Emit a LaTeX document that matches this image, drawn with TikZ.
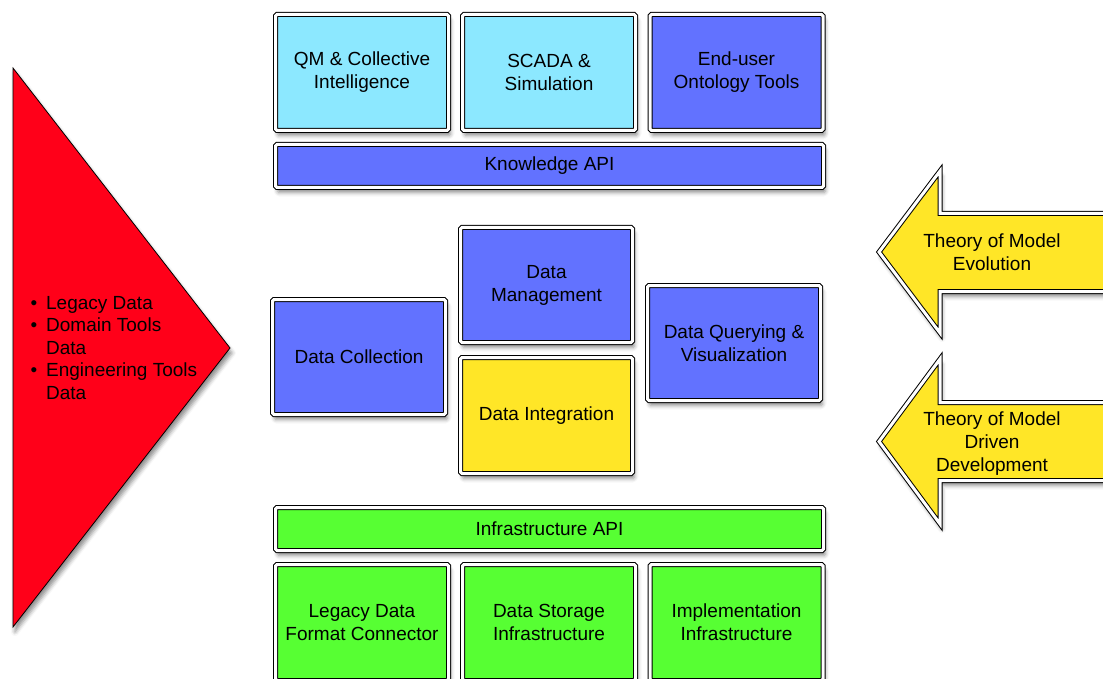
\documentclass[tikz,border=0pt]{standalone}
\usepackage{fontspec}
\setmainfont{Liberation Sans}
\usetikzlibrary{shadows.blur}
\definecolor{boxcyan}{RGB}{140,232,255}
\definecolor{boxblue}{RGB}{98,114,255}
\definecolor{boxyellow}{RGB}{255,230,39}
\definecolor{boxgreen}{RGB}{87,255,51}
\definecolor{flagred}{RGB}{255,0,25}
\tikzset{>=latex}
\tikzstyle{layer}=[rectangle,draw=black,line width=1pt,double=white,double distance=3pt,rounded corners=1.5pt,align=center,inner sep=0pt,blur shadow={shadow xshift=2pt,shadow yshift=-5pt,shadow blur radius=4pt,shadow opacity=45}]
\tikzstyle{tile}=[layer,minimum width=173pt,minimum height=116pt]
\tikzstyle{api}=[layer,minimum width=548pt,minimum height=43pt]
\tikzstyle{theory}=[draw=black,line width=1pt,double=white,double distance=3pt,fill=boxyellow,blur shadow={shadow xshift=2pt,shadow yshift=-5pt,shadow blur radius=4pt,shadow opacity=45}]

\begin{document}
\begin{tikzpicture}[x=1pt,y=-1pt,font=\fontsize{19}{23}\selectfont]
    \clip[use as bounding box] (0,0) rectangle (1103,679);

    % sources
    \draw[fill=flagred,line width=0.8pt,blur shadow={shadow xshift=2pt,shadow yshift=-5pt,shadow blur radius=4pt,shadow opacity=45}] (13,68) -- (230,348) -- (13,627) -- cycle;
    \node[anchor=west] (src) at (27,349.5) {\fontsize{19}{22.5}\selectfont\begin{tabular}{@{}l@{\hspace{9pt}}l@{}}
        \textbullet & Legacy Data\\
        \textbullet & Domain Tools\\
                    & Data\\
        \textbullet & Engineering Tools\\
                    & Data
    \end{tabular}};

    % top row
    \foreach \n/\x/\c/\t in {qm/362/boxcyan/{QM \& Collective\\Intelligence},
                             scada/549/boxcyan/{SCADA \&\\Simulation},
                             onto/736.5/boxblue/{End-user\\Ontology Tools}} {
        \node[tile,fill=\c] (\n) at (\x,72.5) {\t};
    };
    \node[api,fill=boxblue] (kapi) at (549.5,166) {Knowledge API};

    % middle
    \node[tile,fill=boxblue,minimum height=115pt] (coll) at (359,357) {Data Collection};
    \node[tile,fill=boxblue,minimum width=172pt,minimum height=115pt] (mgmt) at (546.5,285) {Data\\Management};
    \node[tile,fill=boxyellow,minimum width=172pt] (integ) at (546.5,415.5) {Data Integration};
    \node[tile,fill=boxblue,minimum height=115pt] (query) at (734,343) {Data Querying \&\\Visualization};

    % bottom row
    \node[api,fill=boxgreen] (iapi) at (549.5,529) {Infrastructure API};
    \foreach \n/\x/\t in {legacy/362/{Legacy Data\\Format Connector},
                          storage/549/{Data Storage\\Infrastructure},
                          impl/736.5/{Implementation\\Infrastructure}} {
        \node[tile,fill=boxgreen] (\n) at (\x,622.5) {\t};
    };

    % theory arrows
    \draw[theory] (879,252) -- (940,171) -- (940,213.5) -- (1115,213.5) -- (1115,291.5) -- (940,291.5) -- (940,333) -- cycle;
    \node[align=center] (evol) at (992,252.5) {Theory of Model\\Evolution};
    \draw[theory] (879,441.5) -- (940,359) -- (940,402.5) -- (1115,402.5) -- (1115,480.5) -- (940,480.5) -- (940,524) -- cycle;
    \node[align=center] (mdd) at (992,443.5) {Theory of Model\\Driven\\Development};
\end{tikzpicture}
\end{document}
